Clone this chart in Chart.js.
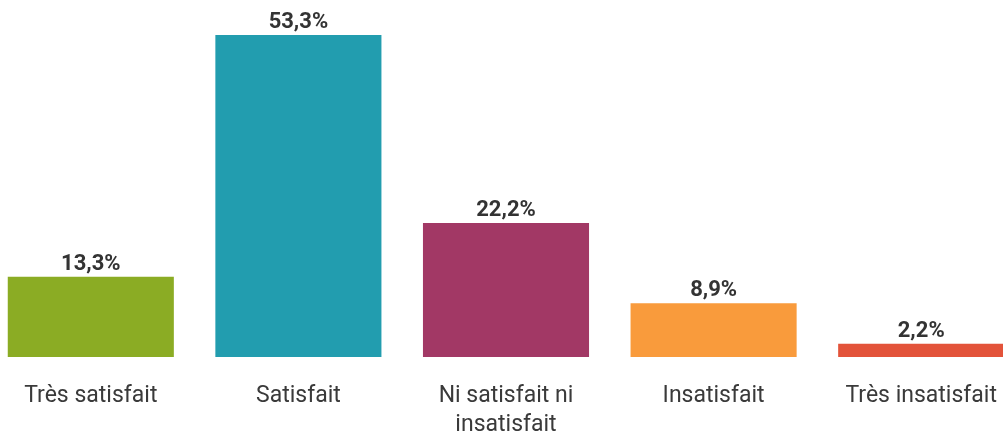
<!DOCTYPE html>
<html><head><meta charset="utf-8">
<script src="https://cdn.jsdelivr.net/npm/chart.js@4"></script>
<style>
html,body{margin:0;padding:0;background:#fff;overflow:hidden;width:1003px;height:441px;}
#wrap{position:absolute;left:-13px;top:0;width:1038px;height:441px;}
</style></head>
<body><div id="wrap"><canvas id="c"></canvas></div>
<script>
const categories = [["Très satisfait"], ["Satisfait"], ["Ni satisfait ni", "insatisfait"], ["Insatisfait"], ["Très insatisfait"]];
const values = [13.3, 53.3, 22.2, 8.9, 2.2];
const valueLabels = ["13,3%", "53,3%", "22,2%", "8,9%", "2,2%"];
const colors = ["#8BAC24", "#229DAF", "#A23865", "#F99B3C", "#E3533A"];

const labelPlugin = {
  id: 'valLabels',
  afterDatasetsDraw(chart) {
    const ctx = chart.ctx;
    const meta = chart.getDatasetMeta(0);
    ctx.save();
    ctx.font = 'bold 22px Roboto, "Liberation Sans", Arial, sans-serif';
    ctx.fillStyle = '#333333';
    ctx.textAlign = 'center';
    ctx.textBaseline = 'alphabetic';
    meta.data.forEach((bar, i) => {
      ctx.fillText(valueLabels[i], bar.x, bar.y - 7);
    });
    ctx.restore();
  }
};

new Chart(document.getElementById('c'), {
  type: 'bar',
  data: { labels: categories, datasets: [{ data: values, backgroundColor: colors, borderWidth: 0, barPercentage: 0.8, categoryPercentage: 1.0 }] },
  options: {
    responsive: true, maintainAspectRatio: false, animation: false,
    layout: { padding: 0 },
    plugins: { legend: { display: false }, tooltip: { enabled: false } },
    scales: {
      x: {
        grid: { display: false, drawTicks: false }, border: { display: false },
        ticks: { color: '#3a3a3a', padding: 25, maxRotation: 0, autoSkip: false,
          font: { family: 'Roboto, "Liberation Sans", Arial, sans-serif', size: 23, lineHeight: 1.25 } },
        afterFit(s) { s.height = 84; }
      },
      y: { display: false, min: 0, max: 59.1 }
    }
  },
  plugins: [labelPlugin]
});
</script></body></html>
